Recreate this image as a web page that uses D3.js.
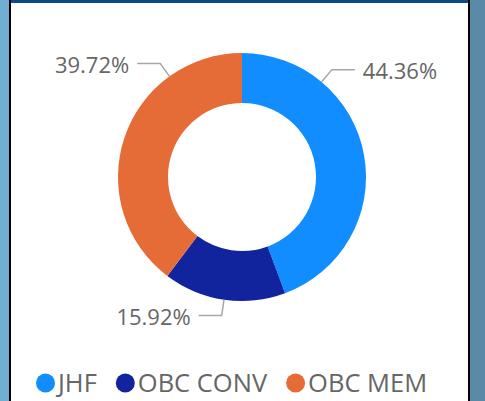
<!DOCTYPE html>
<html>
<head>
<meta charset="utf-8">
<script src="https://cdn.jsdelivr.net/npm/d3@7"></script>
<style>
  body { margin: 0; background: #fff; }
  svg { display: block; }
  .lbl { font-family: "Segoe UI", "Open Sans", sans-serif; font-size: 22px; fill: #666; }
  .leg { font-family: "Segoe UI", "Open Sans", sans-serif; font-size: 25.5px; fill: #666; }
</style>
</head>
<body>
<div id="chart"></div>
<script>
// chart data
const categories = ['JHF', 'OBC CONV', 'OBC MEM'];
const shares = [44.36, 15.92, 39.72];
const colors = ['#118dff', '#12239e', '#e66c37'];
// where along each slice the leader line leaves (0 = start, 1 = end)
const labelAt = [0.25, 0.5, 0.75];

function donut() {
    const W = 485, H = 401;
    const cx = 242, cy = 177;
    const outerR = 124, innerR = 74;

    const svg = d3.select('#chart').append('svg')
        .attr('width', W)
        .attr('height', H);

    // page background, gradient strips on the sides
    const grad = svg.append('defs').append('linearGradient')
        .attr('id', 'bg').attr('x1', 0).attr('x2', 1).attr('y1', 0).attr('y2', 0);
    grad.append('stop').attr('offset', 0).attr('stop-color', '#72aed4');
    grad.append('stop').attr('offset', 1).attr('stop-color', '#5a89a6');
    svg.append('rect').attr('width', W).attr('height', H).attr('fill', 'url(#bg)');

    // card
    svg.append('rect').attr('x', 9).attr('y', 0).attr('width', 461).attr('height', H).attr('fill', '#000');
    svg.append('rect').attr('x', 11).attr('y', 0).attr('width', 457).attr('height', H).attr('fill', '#fff');
    svg.append('rect').attr('x', 11).attr('y', 0).attr('width', 457).attr('height', 3).attr('fill', '#0b4a84');

    const data = categories.map((c, i) => ({name: c, value: shares[i], color: colors[i], at: labelAt[i]}));

    const pie = d3.pie().value(d => d.value).sort(null);
    const arc = d3.arc().innerRadius(innerR).outerRadius(outerR);
    const arcs = pie(data);

    const g = svg.append('g').attr('transform', `translate(${cx}, ${cy})`);

    g.selectAll('path.slice')
        .data(arcs)
        .join('path')
        .attr('class', 'slice')
        .attr('d', arc)
        .attr('fill', d => d.data.color);

    // leader lines + labels
    const pt = (a, r) => [Math.sin(a) * r, -Math.cos(a) * r];
    arcs.forEach(d => {
        const a = d.startAngle + (d.endAngle - d.startAngle) * d.data.at;
        const p0 = pt(a, outerR);
        const p1 = pt(a, outerR + 16);
        const side = Math.sin(a) >= 0 ? 1 : -1;
        const p2 = [p1[0] + side * 23, p1[1]];
        g.append('polyline')
            .attr('points', [p0, p1, p2].map(p => p.join(',')).join(' '))
            .attr('fill', 'none')
            .attr('stroke', '#a6a6a6')
            .attr('stroke-width', 1.5);
        g.append('text')
            .attr('class', 'lbl')
            .attr('x', p2[0] + side * 8)
            .attr('y', p2[1] + 2)
            .attr('dy', '0.35em')
            .attr('text-anchor', side > 0 ? 'start' : 'end')
            .text(d.data.value.toFixed(2) + '%');
    });

    // legend
    const legend = svg.append('g').attr('transform', 'translate(36, 383)');
    let x = 0;
    data.forEach(d => {
        const item = legend.append('g').attr('transform', `translate(${x}, 0)`);
        item.append('circle').attr('cx', 9.5).attr('cy', 0).attr('r', 9.5).attr('fill', d.color);
        const t = item.append('text')
            .attr('class', 'leg')
            .attr('x', 22)
            .attr('dy', '0.35em')
            .text(d.name);
        x += 22 + t.node().getComputedTextLength() + 19;
    });
}

donut();
</script>
</body>
</html>
